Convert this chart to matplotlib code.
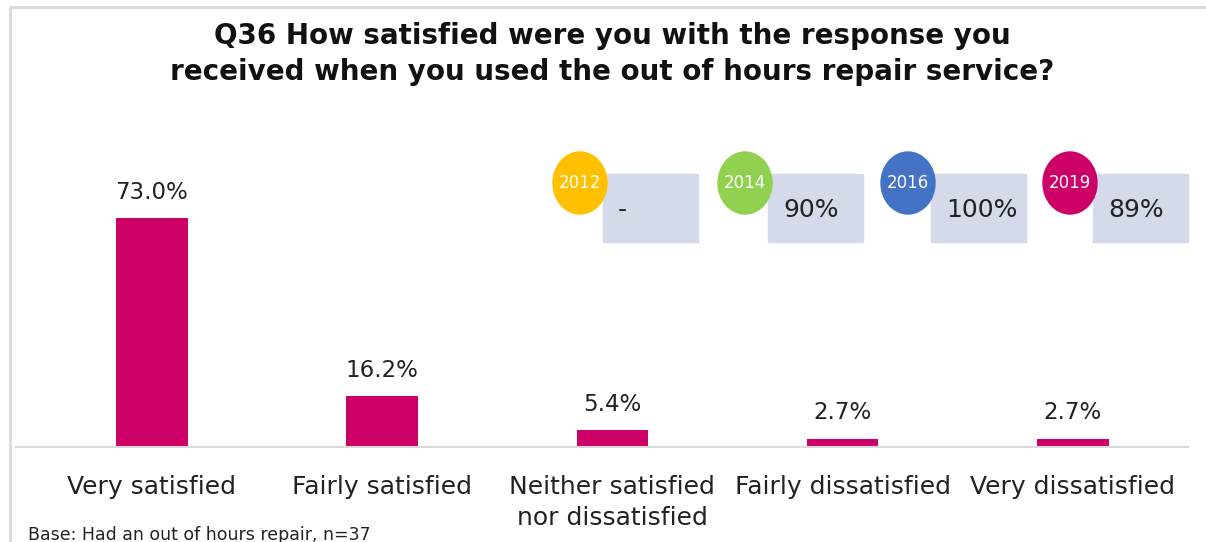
import matplotlib
matplotlib.use('Agg')
import matplotlib.pyplot as plt
from matplotlib.patches import Ellipse, Rectangle

categories = ['Very satisfied', 'Fairly satisfied', 'Neither satisfied\nnor dissatisfied',
              'Fairly dissatisfied', 'Very dissatisfied']
values = [73.0, 16.2, 5.4, 2.7, 2.7]

years = ['2012', '2014', '2016', '2019']
year_scores = ['-', '90%', '100%', '89%']
year_colors = ['#FFC000', '#92D050', '#4472C4', '#CC0066']

bar_color = '#CC0066'
plt.rcParams['font.family'] = ['DejaVu Sans']

W, H = 1206, 542
fig = plt.figure(figsize=(W / 100, H / 100), dpi=100)

# outer frame of the slide panel
frame = fig.add_axes([0, 0, 1, 1])
frame.set_xlim(0, W)
frame.set_ylim(H, 0)
frame.axis('off')
frame.plot([10, 10, W], [H, 7, 7], color='#d9d9d9', lw=2)

ax = fig.add_axes([16 / W, (H - 447) / H, (1188 - 16) / W, (447 - 100) / H])
x = range(len(categories))
ax.bar(x, values, width=0.31, color=bar_color)
for i, v in zip(x, values):
    ax.text(i, v + 4.5, f'{v:.1f}%', ha='center', va='bottom', fontsize=16.5, color='#222222')
ax.set_xlim(-0.59, 4.5)
ax.set_ylim(0, 110.5)
ax.set_xticks(list(x))
ax.set_xticklabels(categories, fontsize=18, color='#222222', linespacing=1.4, va='top')
ax.tick_params(axis='x', length=0, pad=20)
ax.set_yticks([])
for s in ['top', 'right', 'left']:
    ax.spines[s].set_visible(False)
ax.spines['bottom'].set_color('#d9d9d9')
ax.spines['bottom'].set_linewidth(1.5)
ax.patch.set_alpha(0)

# overlay for title, year badges and base note
ov = fig.add_axes([0, 0, 1, 1], zorder=5)
ov.set_xlim(0, W)
ov.set_ylim(H, 0)
ov.axis('off')

ov.text(612, 54, 'Q36 How satisfied were you with the response you\nreceived when you used the out of hours repair service?',
        ha='center', va='center', fontsize=20, fontweight='bold', color='#111111', linespacing=1.4)

badge_x = [580, 745, 908, 1070]
for bx, yr, sc, col in zip(badge_x, years, year_scores, year_colors):
    ov.add_patch(Rectangle((bx + 23, 174), 95, 68, color='#D5DAEB', zorder=1))
    ov.add_patch(Ellipse((bx, 183), 54, 62, color=col, zorder=2))
    ov.text(bx, 183, yr, ha='center', va='center', fontsize=12, color='white', zorder=3)
    ov.text(bx + 38, 210, sc, ha='left', va='center', fontsize=18, color='#222222', zorder=3)

ov.text(28, 535, 'Base: Had an out of hours repair, n=37', ha='left', va='center',
        fontsize=12.5, color='#222222')

fig.savefig('out.png', dpi=100)
